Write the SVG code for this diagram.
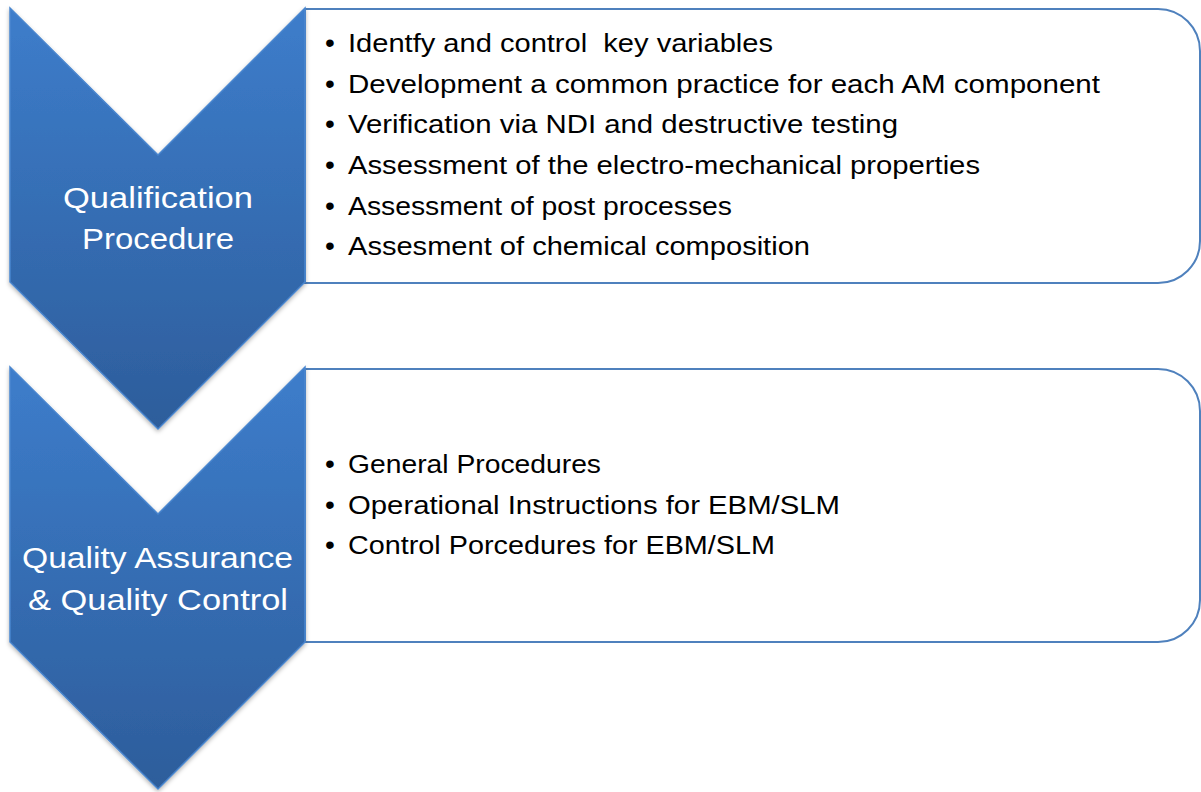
<svg xmlns="http://www.w3.org/2000/svg" width="1201" height="792" viewBox="0 0 1201 792">
<defs>
<linearGradient id="g1" gradientUnits="userSpaceOnUse" x1="0" y1="8" x2="0" y2="429">
<stop offset="0" stop-color="#3d7dcb"/><stop offset="1" stop-color="#2d5d9b"/></linearGradient>
<linearGradient id="g2" gradientUnits="userSpaceOnUse" x1="0" y1="367" x2="0" y2="789">
<stop offset="0" stop-color="#3d7dcb"/><stop offset="1" stop-color="#2d5d9b"/></linearGradient>
<filter id="sh" x="-10%" y="-10%" width="120%" height="120%">
<feDropShadow dx="0" dy="2" stdDeviation="2" flood-color="#000" flood-opacity="0.3"/></filter>
</defs>
<style>
.box{fill:#fff;stroke:#4f81bd;stroke-width:2}
.chev{stroke:#4a86cf;stroke-width:1.5}
.item{font-family:"Liberation Sans",Arial,sans-serif;font-size:26px;fill:#000;white-space:pre}
.bul{font-family:"Liberation Sans",Arial,sans-serif;font-size:28px;fill:#000}
.lbl{font-family:"Liberation Sans",Arial,sans-serif;font-size:29px;fill:#fff;text-anchor:middle}
</style>
<rect width="1201" height="792" fill="#fff"/>
<g id="box1">
<path class="box" d="M305,9 H1158 A42,42 0 0 1 1200,51 V241 A42,42 0 0 1 1158,283 H305 Z"/>
<text class="bul" x="325" y="52">•</text><text class="item" x="348" y="52" textLength="425" lengthAdjust="spacingAndGlyphs" xml:space="preserve">Identfy and control  key variables</text>
<text class="bul" x="325" y="92.5">•</text><text class="item" x="348" y="92.5" textLength="752" lengthAdjust="spacingAndGlyphs">Development a common practice for each AM component</text>
<text class="bul" x="325" y="133">•</text><text class="item" x="348" y="133" textLength="550" lengthAdjust="spacingAndGlyphs">Verification via NDI and destructive testing</text>
<text class="bul" x="325" y="174">•</text><text class="item" x="348" y="174" textLength="632" lengthAdjust="spacingAndGlyphs">Assessment of the electro-mechanical properties</text>
<text class="bul" x="325" y="214.5">•</text><text class="item" x="348" y="214.5" textLength="384" lengthAdjust="spacingAndGlyphs">Assessment of post processes</text>
<text class="bul" x="325" y="255">•</text><text class="item" x="348" y="255" textLength="462" lengthAdjust="spacingAndGlyphs">Assesment of chemical composition</text>
</g>
<g id="box2">
<path class="box" d="M305,369 H1158 A42,42 0 0 1 1200,411 V600 A42,42 0 0 1 1158,642 H305 Z"/>
<text class="bul" x="325" y="473">•</text><text class="item" x="348" y="473" textLength="253" lengthAdjust="spacingAndGlyphs">General Procedures</text>
<text class="bul" x="325" y="513.5">•</text><text class="item" x="348" y="513.5" textLength="492" lengthAdjust="spacingAndGlyphs">Operational Instructions for EBM/SLM</text>
<text class="bul" x="325" y="554">•</text><text class="item" x="348" y="554" textLength="427" lengthAdjust="spacingAndGlyphs">Control Porcedures for EBM/SLM</text>
</g>
<g id="chevron1">
<path class="chev" fill="url(#g1)" filter="url(#sh)" d="M10,8 L158,155 L305,8 L305,282 L158,429 L10,282 Z"/>
<text class="lbl" x="158" y="208" textLength="190" lengthAdjust="spacingAndGlyphs">Qualification</text>
<text class="lbl" x="158" y="249" textLength="152" lengthAdjust="spacingAndGlyphs">Procedure</text>
</g>
<g id="chevron2">
<path class="chev" fill="url(#g2)" filter="url(#sh)" d="M10,367 L158,514 L305,367 L305,642 L158,789 L10,642 Z"/>
<text class="lbl" x="157.5" y="568" textLength="271" lengthAdjust="spacingAndGlyphs">Quality Assurance</text>
<text class="lbl" x="158" y="610" textLength="260" lengthAdjust="spacingAndGlyphs">&amp; Quality Control</text>
</g>
<g id="connectors"/>
</svg>
